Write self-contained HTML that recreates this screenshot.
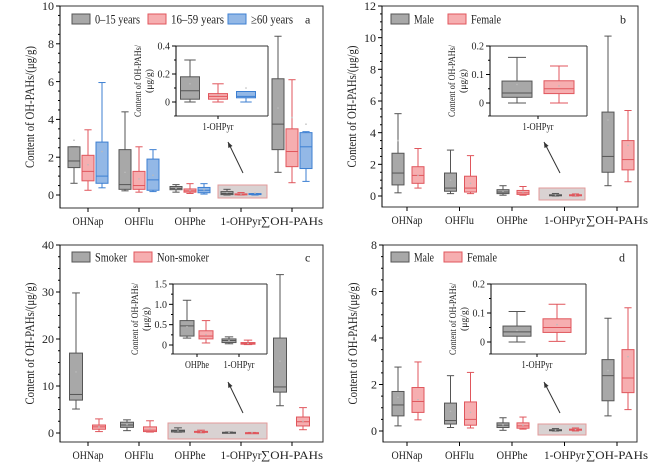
<!DOCTYPE html>
<html><head><meta charset="utf-8"><style>
html,body{margin:0;padding:0;background:#fff;}
svg, svg text{font-family:"Liberation Serif","Times New Roman",Times,serif;}
</style></head><body>
<svg id="fig" width="668" height="464" viewBox="0 0 668 464" xmlns="http://www.w3.org/2000/svg"></svg>
<script>
// values per box: [min, q1, median, q3, max, mean]
const catsMain = ["OHNap","OHFlu","OHPhe","1-OHPyr","∑OH-PAHs"];
const aGray = [[0.62,1.45,1.8,2.55,2.55,2.9],[0.22,0.3,0.55,2.4,4.4,1.2],[0.15,0.28,0.35,0.45,0.55,0.35],[0,0.02,0.08,0.18,0.3,0.13],[1.2,2.4,3.75,6.15,8.4,4.6]];
const aRed  = [[0.25,0.75,1.25,2.1,3.45,1.6],[0.15,0.3,0.5,1.25,2.55,0.85],[0.08,0.15,0.22,0.32,0.6,0.25],[0,0.02,0.04,0.06,0.13,0.05],[0.65,1.5,2.3,3.5,6.1,4.1]];
const aBlue = [[0.38,0.62,1.0,2.8,5.95,2.3],[0.18,0.25,0.8,1.9,2.4,1.05],[0.05,0.12,0.25,0.4,0.6,0.28],[0,0.03,0.04,0.075,0.075,0.1],[0.72,1.4,2.55,3.3,3.35,3.75]];
const bGray = [[0.2,0.7,1.45,2.7,5.2,3.5],[0.15,0.3,0.5,1.45,2.9,1.0],[0.05,0.15,0.25,0.4,0.65,0.3],[0,0.02,0.035,0.077,0.16,0.065],[0.65,1.5,2.5,5.3,10.1,4.8]];
const bRed  = [[0.5,0.8,1.3,1.85,3.0,1.3],[0.15,0.25,0.5,1.25,2.55,0.8],[0.05,0.1,0.2,0.35,0.6,0.25],[0,0.033,0.05,0.078,0.13,0.06],[0.9,1.65,2.3,3.5,5.4,3.2]];
const cGray = [[5.1,7,8.2,17,29.8,13],[0.5,1.2,1.7,2.3,2.8,1.8],[0.17,0.22,0.47,0.6,1.1,0.45],[0.03,0.06,0.11,0.15,0.2,0.11],[5.8,8.7,9.8,20.2,33.7,15.3]];
const cRed  = [[0.3,0.8,1.3,1.7,3.0,1.3],[0.2,0.3,0.6,1.3,2.6,0.9],[0.05,0.15,0.22,0.35,0.6,0.25],[0.01,0.02,0.04,0.06,0.12,0.04],[0.7,1.5,2.4,3.4,5.4,2.5]];
const dGray = [[0.22,0.65,1.12,1.7,2.75,1.45],[0.15,0.3,0.45,1.2,2.38,0.85],[0.03,0.15,0.25,0.35,0.57,0.27],[0,0.02,0.035,0.055,0.105,0.04],[0.65,1.3,2.38,3.07,4.85,2.6]];
const dRed  = [[0.48,0.8,1.27,1.87,2.97,1.35],[0.13,0.25,0.5,1.25,2.52,0.8],[0.08,0.12,0.22,0.35,0.6,0.25],[0.002,0.033,0.05,0.08,0.13,0.06],[0.92,1.65,2.28,3.5,5.3,3.2]];
const aTicks = [0,2,4,6,8,10];
const bTicks = [0,2,4,6,8,10,12];
const cTicks = [0,10,20,30,40];
const dTicks = [0,2,4,6,8];

const NS="http://www.w3.org/2000/svg";
const svg=document.getElementById('fig');
const FONT='"Liberation Serif","Times New Roman",Times,serif';
const XW={"OHNap":31,"OHFlu":29,"OHPhe":31,"1-OHPyr":41,"∑OH-PAHs":62};
const LW={"0–15 years":45,"16–59 years":53,"≥60 years":42,"Male":20,"Female":30,"Smoker":32,"Non-smoker":52};
const COL={gray:{f:"#a8a8a8",s:"#555"},red:{f:"#f6aeb0",s:"#e0565c"},blue:{f:"#93b8e6",s:"#3c7fd2"}};
function mk(tag,at,parent){const e=document.createElementNS(NS,tag);for(const k in at)e.setAttribute(k,at[k]);(parent||svg).appendChild(e);return e;}
function txt(x,y,s,at,parent,w){const e=mk('text',Object.assign({x:x,y:y,'font-family':FONT},at),parent);e.textContent=s;if(w){e.setAttribute('textLength',w);e.setAttribute('lengthAdjust','spacingAndGlyphs');}return e;}

function drawBox(g,cx,w,v,sc,col){
  const c=COL[col];
  const b=mk('g',{},g);
  
  
  const cw=w*0.6;
  mk('line',{x1:cx,x2:cx,y1:sc(v[4]),y2:sc(v[3]),stroke:c.s,'stroke-width':1},b);
  mk('line',{x1:cx,x2:cx,y1:sc(v[1]),y2:sc(v[0]),stroke:c.s,'stroke-width':1},b);
  mk('line',{x1:cx-cw/2,x2:cx+cw/2,y1:sc(v[4]),y2:sc(v[4]),stroke:c.s,'stroke-width':1},b);
  mk('line',{x1:cx-cw/2,x2:cx+cw/2,y1:sc(v[0]),y2:sc(v[0]),stroke:c.s,'stroke-width':1},b);
  const top=sc(v[3]),bot=sc(v[1]);
  mk('rect',{x:cx-w/2,y:top,width:w,height:Math.max(bot-top,1),fill:c.f,stroke:c.s,'stroke-width':1},b);
  mk('line',{x1:cx-w/2,x2:cx+w/2,y1:sc(v[2]),y2:sc(v[2]),stroke:c.s,'stroke-width':1},b);
  mk('circle',{cx:cx,cy:sc(v[5]),r:0.8,fill:"#bbb"},b);
}

function yAxis(g,x,y0,y1,ticks,sc,fs,minorN,labelFn){
  mk('line',{x1:x,x2:x,y1:y0,y2:y1,stroke:"#000",'stroke-width':1},g);
  ticks.forEach((t,i)=>{
    const y=sc(t);
    mk('line',{x1:x-4,x2:x,y1:y,y2:y,stroke:"#000"},g);
    const l=txt(x-6,y+fs*0.35,labelFn?labelFn(t):String(t),{'font-size':fs,'text-anchor':'end',fill:"#222"},g);
    
    
    if(i<ticks.length-1){const st=(ticks[i+1]-t)/minorN;for(let k=1;k<minorN;k++){const yy=sc(t+st*k);mk('line',{x1:x-2,x2:x,y1:yy,y2:yy,stroke:"#000"},g);}}
  });
}

function panel(o){
  const g=mk('g',{});
  
  
  const sc=v=>o.y0-(v/o.tmax)*(o.y0-o.ytop);
  mk('rect',{x:o.L,y:o.T,width:o.R-o.L,height:o.B-o.T,fill:"none",stroke:"#333",'stroke-width':1},g);
  yAxis(g,o.L,o.T,o.B,o.ticks,sc,12,4);
  const yl=txt(0,0,"Content of OH-PAHs/(μg/g)",{'font-size':13,'text-anchor':'middle',transform:`translate(${o.L-26},${(o.T+o.B)/2}) rotate(-90)`,fill:"#222"},g,122);
  
  
  catsMain.forEach((c,i)=>{
    const cx=o.x0+o.dx*i;
    mk('line',{x1:cx,x2:cx,y1:o.B,y2:o.B+4,stroke:"#000"},g);
    const l=txt(cx,o.B+17,c,{'font-size':12,'text-anchor':'middle',fill:"#222"},g,XW[c]);
    
    
  });
  const h=mk('rect',{x:o.hl[0],y:o.hl[1],width:o.hl[2],height:o.hl[3],fill:"#d9d2d2",stroke:"#e39a9a",'stroke-width':1},g);
  
  
  catsMain.forEach((c,i)=>{
    const cx=o.x0+o.dx*i;
    o.series.forEach((s,j)=>drawBox(g,cx+o.offs[j],o.bw,s.data[i],sc,s.col));
  });
  o.legend.forEach(l=>{
    const e=mk('g',{},g);
    
    
    mk('rect',{x:l.x,y:o.ly-5,width:18,height:10,fill:COL[l.col].f,stroke:COL[l.col].s},e);
    txt(l.x+23,o.ly+4.5,l.t,{'font-size':12.5,fill:"#222"},e,LW[l.t]);
  });
  const pl=txt(o.R-18,o.ly+4.5,o.letter,{'font-size':12,fill:"#222"},g);
  
  
  const a=o.arrow;
  mk('line',{x1:a[0],y1:a[1],x2:a[2],y2:a[3],stroke:"#333",'stroke-width':1},g);
  const ang=Math.atan2(a[3]-a[1],a[2]-a[0]);
  const p=(d,t)=>[a[2]-d*Math.cos(ang+t),a[3]-d*Math.sin(ang+t)];
  const p1=p(6,0.4),p2=p(6,-0.4);
  mk('polygon',{points:`${a[2]},${a[3]} ${p1[0]},${p1[1]} ${p2[0]},${p2[1]}`,fill:"#333"},g);
  const ins=o.inset;
  const ig=mk('g',{},g);
  
  
  const isc=v=>ins.y0-(v/ins.tmax)*(ins.y0-ins.ytop);
  mk('line',{x1:ins.L,x2:ins.R,y1:ins.T,y2:ins.T,stroke:"#333"},ig);
  mk('line',{x1:ins.R,x2:ins.R,y1:ins.T,y2:ins.B,stroke:"#333"},ig);
  mk('line',{x1:ins.L-2,x2:ins.R,y1:ins.B,y2:ins.B,stroke:"#333"},ig);
  yAxis(ig,ins.L,ins.T,ins.B,ins.ticks,isc,10,2,ins.fmt);
  const il=txt(0,0,"Content of OH-PAHs/",{'font-size':9,'text-anchor':'middle',transform:`translate(${ins.L-35},${(ins.T+ins.B)/2}) rotate(-90)`,fill:"#222"},ig,72);
  
  
  txt(0,0,"(μg/g)",{'font-size':9,'text-anchor':'middle',transform:`translate(${ins.L-24},${(ins.T+ins.B)/2}) rotate(-90)`,fill:"#222"},ig,24);
  ins.cats.forEach((ci,k)=>{
    const cx=ins.cx[k];
    mk('line',{x1:cx,x2:cx,y1:ins.B,y2:ins.B+3,stroke:"#000"},ig);
    const l=txt(cx,ins.B+14,catsMain[ci],{'font-size':10,'text-anchor':'middle',fill:"#222"},ig,ci===3?31:24);
    
    
    o.series.forEach((s,j)=>drawBox(ig,cx+ins.offs[j],ins.bw,s.data[ci],isc,s.col));
  });
}

panel({letter:'a',L:60,R:323,T:6,B:208,y0:195,ytop:6,tmax:10,ticks:aTicks,x0:88,dx:51,bw:12,offs:[-14,0,14],
  series:[{col:'gray',data:aGray},{col:'red',data:aRed},{col:'blue',data:aBlue}],
  ly:19,legend:[{x:72,col:'gray',t:"0–15 years"},{x:148,col:'red',t:"16–59 years"},{x:228,col:'blue',t:"≥60 years"}],
  hl:[218,185,49,13],arrow:[243,173,228,142],
  inset:{L:176,R:268,T:46,B:116,y0:102,ytop:46,tmax:0.4,ticks:[0,0.2,0.4],fmt:t=>t===0?"0":t.toFixed(1),cats:[3],cx:[218],offs:[-28,0,28],bw:19}});
panel({letter:'b',L:382,R:638,T:6,B:207,y0:196,ytop:6,tmax:12,ticks:bTicks,x0:407,dx:52.5,bw:12,offs:[-9,11],
  series:[{col:'gray',data:bGray},{col:'red',data:bRed}],
  ly:19,legend:[{x:391,col:'gray',t:"Male"},{x:448,col:'red',t:"Female"}],
  hl:[539,188,46,12],arrow:[560,173,544,142],
  inset:{L:490,R:587,T:46,B:116,y0:103,ytop:46,tmax:0.2,ticks:[0,0.1,0.2],fmt:t=>t===0?"0":t.toFixed(1),cats:[3],cx:[538],offs:[-21,21],bw:30}});
panel({letter:'c',L:60,R:323,T:245,B:442,y0:433,ytop:245,tmax:40,ticks:cTicks,x0:88,dx:51,bw:13,offs:[-12,11],
  series:[{col:'gray',data:cGray},{col:'red',data:cRed}],
  ly:257,legend:[{x:72,col:'gray',t:"Smoker"},{x:134,col:'red',t:"Non-smoker"}],
  hl:[168,423,99,16],arrow:[243,413,228,382],
  inset:{L:173,R:267,T:284,B:354,y0:345,ytop:284,tmax:1.5,ticks:[0,0.5,1,1.5],fmt:t=>t===0?"0":t.toFixed(1),cats:[2,3],cx:[197,239],offs:[-10,9],bw:14}});
panel({letter:'d',L:383,R:637,T:245,B:442,y0:431,ytop:245,tmax:8,ticks:dTicks,x0:407,dx:52.5,bw:12,offs:[-9,11],
  series:[{col:'gray',data:dGray},{col:'red',data:dRed}],
  ly:257,legend:[{x:391,col:'gray',t:"Male"},{x:444,col:'red',t:"Female"}],
  hl:[538,424,48,11],arrow:[560,413,544,382],
  inset:{L:491,R:586,T:284,B:354,y0:342,ytop:284,tmax:0.2,ticks:[0,0.1,0.2],fmt:t=>t===0?"0":t.toFixed(1),cats:[3],cx:[537],offs:[-20,20],bw:28}});
</script>
</body></html>
